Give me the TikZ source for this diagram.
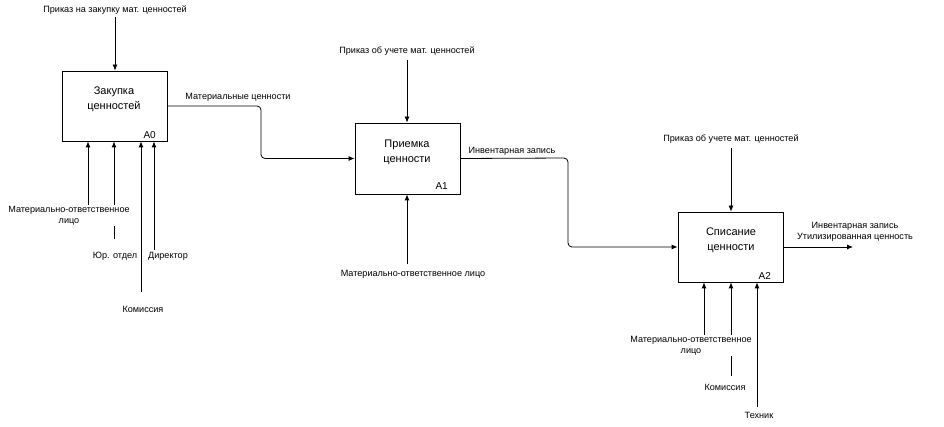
\documentclass[tikz,border=0pt]{standalone}
\usepackage{fontspec}
\setmainfont{Liberation Sans}
\usetikzlibrary{arrows.meta}
\begin{document}
\begin{tikzpicture}[x=1pt,y=-1pt,
  box/.style={draw, line width=0.8pt, inner sep=0pt},
  btext/.style={font=\fontsize{11}{15}\selectfont, align=center, inner sep=0pt},
  bnum/.style={font=\fontsize{10}{12}\selectfont, inner sep=0pt},
  lbl/.style={font=\fontsize{9.1}{11}\selectfont, align=center, inner sep=1pt},
  lblw/.style={lbl, fill=white},
  arr/.style={-{Latex[length=6pt,width=5pt]}, line width=0.8pt},
  flow/.style={arr, rounded corners=4pt}]
\useasboundingbox (0,0) rectangle (944,427);

% boxes
\node[box, minimum width=105pt, minimum height=70pt] (b0) at (114.5,106) {};
\node[box, minimum width=105pt, minimum height=71pt] (b1) at (407.5,158.5) {};
\node[box, minimum width=105pt, minimum height=70pt] (b2) at (730.5,247) {};
\node[btext] (t0) at (114,99) {Закупка\\ценностей};
\node[btext] (t1) at (407,152) {Приемка\\ценности};
\node[btext] (t2) at (731,240) {Списание\\ценности};
\node[bnum, anchor=east] (n0) at (156,135) {A0};
\node[bnum, anchor=east] (n1) at (448,186) {A1};
\node[bnum, anchor=east] (n2) at (771,276) {A2};

% free ends
\coordinate (c0) at (115,17);
\coordinate (c1) at (407,60);
\coordinate (c2) at (731,148);
\coordinate (m0) at (88,215);
\coordinate (y0) at (114,239);
\coordinate (k0) at (141,292);
\coordinate (d0) at (154,250);
\coordinate (m1) at (407,264);
\coordinate (m2) at (704,345);
\coordinate (k2) at (731,376);
\coordinate (e2) at (757,407);
\coordinate (o2) at (853,247);
\coordinate (v0) at (261,106);
\coordinate (v1) at (568,158);

% connectors
\draw[arr] (c0) -- (c0 |- b0.north);
\draw[arr] (c1) -- (c1 |- b1.north);
\draw[arr] (c2) -- (c2 |- b2.north);
\draw[arr] (m0) -- (m0 |- b0.south);
\draw[arr] (y0) -- (y0 |- b0.south);
\draw[arr] (k0) -- (k0 |- b0.south);
\draw[arr] (d0) -- (d0 |- b0.south);
\draw[arr] (m1) -- (m1 |- b1.south);
\draw[arr] (m2) -- (m2 |- b2.south);
\draw[arr] (k2) -- (k2 |- b2.south);
\draw[arr] (e2) -- (e2 |- b2.south);
\draw[flow] (b0.east) -- (v0) |- (b1.west);
\draw[flow] (b1.east) -- (v1) |- (b2.west);
\draw[arr] (b2.east) -- (o2);

% labels
\node[lbl] (lc0) at (115,10) {Приказ на закупку мат. ценностей};
\node[lbl] (lc1) at (407,51) {Приказ об учете мат. ценностей};
\node[lbl] (lc2) at (731,139) {Приказ об учете мат. ценностей};
\node[lblw] (lm0) at (69,215.5) {Материально-ответственное\\лицо};
\node[lbl] (ly0) at (115,256) {Юр. отдел};
\node[lbl] (lk0) at (143,309) {Комиссия};
\node[lbl] (ld0) at (168,256) {Директор};
\node[lbl] (lo0) at (238,97) {Материальные ценности};
\node[lbl] (lm1) at (413,274) {Материально-ответственное лицо};
\node[lbl] (lo1) at (512,151) {Инвентарная запись};
\node[lbl] (lo2) at (855,232) {Инвентарная запись\\Утилизированная ценность};
\node[lblw] (lm2) at (691,345.5) {Материально-ответственное\\лицо};
\node[lbl] (lk2) at (725,387) {Комиссия};
\node[lbl] (le2) at (759,415) {Техник};
\end{tikzpicture}
\end{document}
